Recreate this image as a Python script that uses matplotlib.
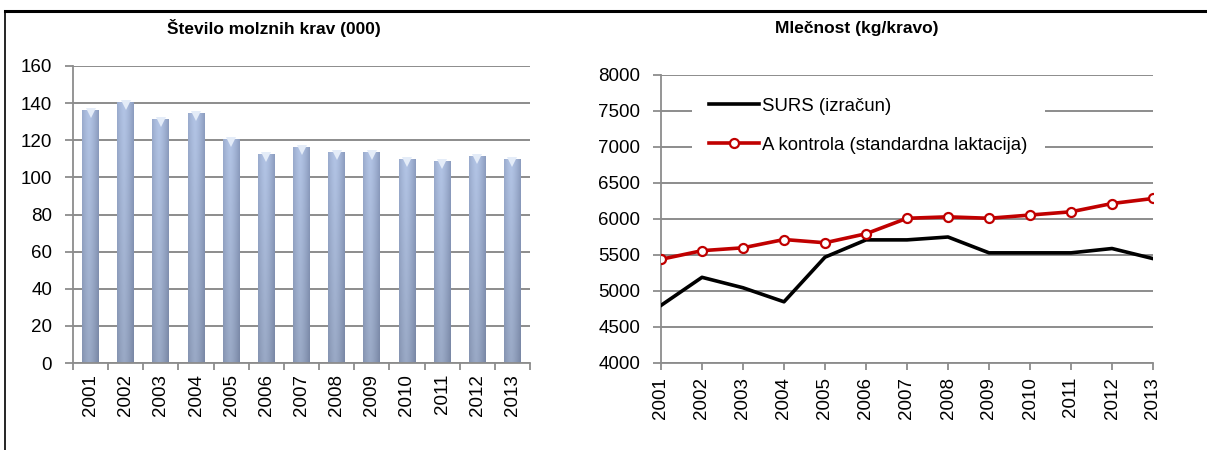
import numpy as np
import matplotlib.pyplot as plt
from matplotlib.lines import Line2D
from matplotlib.patches import Rectangle

plt.rcParams['font.family'] = ['Liberation Sans', 'DejaVu Sans']

# podatki
leta = ['2001', '2002', '2003', '2004', '2005', '2006', '2007',
        '2008', '2009', '2010', '2011', '2012', '2013']
stevilo_krav = [136.5, 140.5, 131.5, 134.5, 120.5, 112.5, 116.5,
                113.5, 113.5, 110, 109, 111.5, 110]
surs = [4800, 5190, 5045, 4850, 5470, 5710, 5710,
        5750, 5530, 5530, 5530, 5590, 5450]
a_kontrola = [5440, 5560, 5600, 5715, 5670, 5795, 6010,
              6030, 6010, 6055, 6100, 6215, 6285]

GRID = '#8c8c8c'
W, H = 1207, 450


def gradient_stolpca(n=64):
    """barvni prelivi za valjaste stolpce"""
    t = np.linspace(0, 1, n)
    svetlost = 1 - 0.55 * np.abs(t - 0.42) ** 1.4 / 0.58 ** 1.4
    temna = np.array([0.42, 0.48, 0.62])
    svetla = np.array([0.70, 0.77, 0.90])
    vrsta = temna + (svetla - temna) * svetlost[:, None]
    v = np.linspace(1.0, 0.86, n)[:, None, None]
    return np.clip(vrsta[None, :, :] * v, 0, 1)


def okrasi_os(ax):
    for s in ['top', 'right']:
        ax.spines[s].set_visible(False)
    for s in ['left', 'bottom']:
        ax.spines[s].set_color(GRID)
        ax.spines[s].set_linewidth(1.3)
    ax.tick_params(axis='both', direction='out', color=GRID, width=1.3,
                   labelsize=13.5)
    ax.tick_params(axis='y', length=6, pad=9)
    ax.tick_params(axis='x', labelrotation=90, length=5)
    ax.yaxis.grid(True, color=GRID, linewidth=1.4)
    ax.set_axisbelow(True)


fig = plt.figure(figsize=(W / 100, H / 100), dpi=100)

# okvir
fig.add_artist(Line2D([5 / W, 1], [1 - 11 / H, 1 - 11 / H],
                      transform=fig.transFigure, color='black', lw=2.2))
fig.add_artist(Line2D([5 / W, 5 / W], [0, 1 - 11 / H],
                      transform=fig.transFigure, color='black', lw=1.2))

# levi graf - stevilo krav
ax1 = fig.add_axes([73 / W, 1 - 363 / H, 457 / W, 297 / H])
okrasi_os(ax1)
x = np.arange(len(leta))
sirina = 0.48
img = gradient_stolpca()
for xi, h in zip(x, stevilo_krav):
    r = Rectangle((xi - sirina / 2, 0), sirina, h, facecolor='none',
                  edgecolor='none')
    ax1.add_patch(r)
    im = ax1.imshow(img, extent=(xi - sirina / 2, xi + sirina / 2, 0, h),
                    aspect='auto', zorder=2, interpolation='bilinear')
    im.set_clip_path(r)
ax1.plot(x, np.array(stevilo_krav) - 1.6, linestyle='none', marker='v',
         markersize=7, color='#e4ecf8', markeredgewidth=0, zorder=3)
ax1.set_xlim(-0.5, len(leta) - 0.5)
ax1.set_ylim(0, 160)
ax1.set_yticks(range(0, 161, 20))
ax1.set_xticks(np.arange(-0.5, len(leta), 1))
ax1.set_xticklabels([])
ax1.set_xticks(x, minor=True)
ax1.set_xticklabels(leta, minor=True)
ax1.tick_params(axis='x', which='minor', length=0, labelsize=13.5,
                labelrotation=90, pad=8)
fig.text(274 / W, 1 - 28 / H, 'Število molznih krav (000)', fontsize=12.5,
         fontweight='bold', ha='center', va='center')

# desni graf - mlecnost
ax2 = fig.add_axes([661 / W, 1 - 363 / H, 492 / W, 288 / H])
okrasi_os(ax2)
ax2.plot(x, surs, color='black', lw=2.6, label='SURS (izračun)', zorder=3)
ax2.plot(x, a_kontrola, color='#c00000', lw=2.6, marker='o', markersize=6.5,
         markerfacecolor='white', markeredgecolor='#c00000',
         markeredgewidth=1.6, label='A kontrola (standardna laktacija)',
         zorder=4)
ax2.set_xlim(0, len(leta) - 1)
ax2.set_ylim(4000, 8000)
ax2.set_yticks(range(4000, 8001, 500))
ax2.set_xticks(x)
ax2.set_xticklabels(leta)
ax2.tick_params(axis='x', pad=5)
fig.text(857 / W, 1 - 29 / H, 'Mlečnost (kg/kravo)', fontsize=12.5,
         fontweight='bold', ha='center', va='center')
leg = ax2.legend(loc='upper left', bbox_to_anchor=(0.045, 1.012),
                 fontsize=13.4, frameon=True, facecolor='white',
                 edgecolor='none', framealpha=1, fancybox=False,
                 handlelength=2.7, handletextpad=0.16, labelspacing=1.2,
                 borderpad=0.9)

fig.savefig('out.png', dpi=100)
